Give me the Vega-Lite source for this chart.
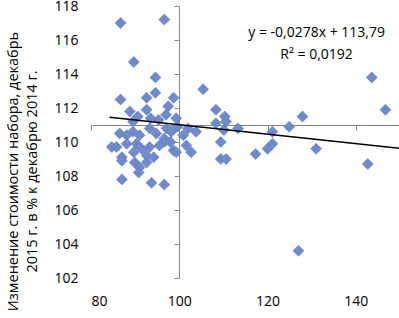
{
  "$schema": "https://vega.github.io/schema/vega-lite/v6.json",
  "autosize": {"type": "none"},
  "padding": {"left": 91, "top": 6, "right": 0, "bottom": 40},
  "width": 309,
  "height": 272,
  "config": {"view": {"stroke": null}, "font": "Open Sans"},
  "datasets": {
    "points": [
      {"x": 86.7, "y": 117.0}, {"x": 96.6, "y": 117.2}, {"x": 89.7, "y": 114.7}, {"x": 94.6, "y": 113.8},
      {"x": 94.6, "y": 112.9}, {"x": 86.7, "y": 112.5}, {"x": 92.6, "y": 112.6}, {"x": 98.7, "y": 112.6},
      {"x": 97.5, "y": 112.1}, {"x": 105.4, "y": 113.1},
      {"x": 88.8, "y": 111.8}, {"x": 92.6, "y": 111.9}, {"x": 90.6, "y": 111.5}, {"x": 95.3, "y": 111.3},
      {"x": 99.3, "y": 111.4}, {"x": 89.5, "y": 111.2}, {"x": 93.5, "y": 111.4}, {"x": 97.0, "y": 111.6},
      {"x": 93.3, "y": 110.8}, {"x": 97.1, "y": 110.8}, {"x": 98.2, "y": 110.6}, {"x": 88.1, "y": 110.4},
      {"x": 91.0, "y": 110.4}, {"x": 100.9, "y": 110.4}, {"x": 103.8, "y": 110.6}, {"x": 96.6, "y": 110.2},
      {"x": 86.5, "y": 110.5}, {"x": 89.5, "y": 110.6}, {"x": 94.8, "y": 110.5}, {"x": 99.6, "y": 110.9},
      {"x": 102.0, "y": 110.8},
      {"x": 84.7, "y": 109.7}, {"x": 87.0, "y": 109.1}, {"x": 89.7, "y": 109.4}, {"x": 93.3, "y": 109.7},
      {"x": 92.6, "y": 109.2}, {"x": 94.2, "y": 109.1}, {"x": 98.7, "y": 109.5}, {"x": 99.3, "y": 109.4},
      {"x": 101.6, "y": 109.8}, {"x": 102.7, "y": 109.4}, {"x": 88.1, "y": 109.9}, {"x": 90.3, "y": 109.9},
      {"x": 96.6, "y": 110.0}, {"x": 85.8, "y": 109.7}, {"x": 91.5, "y": 109.6}, {"x": 95.5, "y": 109.8},
      {"x": 98.0, "y": 110.0},
      {"x": 89.9, "y": 108.8}, {"x": 91.0, "y": 108.5}, {"x": 90.8, "y": 108.2}, {"x": 92.6, "y": 108.8},
      {"x": 87.0, "y": 108.9},
      {"x": 87.0, "y": 107.8}, {"x": 93.7, "y": 107.6}, {"x": 96.6, "y": 107.5},
      {"x": 108.3, "y": 111.9}, {"x": 110.3, "y": 111.5}, {"x": 108.3, "y": 111.1}, {"x": 110.6, "y": 111.2},
      {"x": 110.1, "y": 110.7}, {"x": 113.3, "y": 110.8}, {"x": 109.4, "y": 110.0}, {"x": 109.4, "y": 109.0},
      {"x": 110.6, "y": 109.0}, {"x": 117.3, "y": 109.3}, {"x": 120.0, "y": 109.6}, {"x": 121.1, "y": 109.9},
      {"x": 121.1, "y": 110.6}, {"x": 124.9, "y": 110.9}, {"x": 127.9, "y": 111.5}, {"x": 131.0, "y": 109.6},
      {"x": 143.6, "y": 113.8}, {"x": 146.7, "y": 111.9}, {"x": 142.7, "y": 108.7}, {"x": 127.0, "y": 103.6}
    ],
    "trend": [{"x": 84.2, "y": 111.45}, {"x": 150, "y": 109.62}],
    "labels": [
      {"x": 131.1, "y": 116.4, "text": "y = -0,0278x + 113,79"},
      {"x": 131.1, "y": 115.1, "text": "R² = 0,0192"}
    ],
    "cross": [{"x": 100, "y": 111}]
  },
  "layer": [
    {
      "data": {"name": "points"},
      "mark": {"type": "point", "shape": "diamond", "filled": true, "size": 120, "color": "#6F8BCB", "opacity": 1, "stroke": "#5E7BBF", "strokeWidth": 0.6},
      "encoding": {
        "x": {"field": "x", "type": "quantitative", "scale": {"domain": [80, 150], "nice": false, "zero": false},
          "axis": {"orient": "bottom", "values": [80, 100, 120, 140], "domain": false, "ticks": false, "grid": false, "labelPadding": 16, "labelFontSize": 14, "labelColor": "#000", "labelFont": "Open Sans", "title": null}},
        "y": {"field": "y", "type": "quantitative", "scale": {"domain": [102, 118], "nice": false, "zero": false},
          "axis": {"orient": "left", "values": [102, 104, 106, 108, 110, 112, 114, 116, 118], "domain": false, "ticks": false, "grid": false, "labelPadding": 13, "labelFontSize": 14, "labelColor": "#000", "labelFont": "Open Sans",
            "title": ["Изменение стоимости набора, декабрь", "2015 г. в % к декабрю 2014 г."],
            "titleFontSize": 14.5, "titleFontWeight": "normal", "titleColor": "#000", "titleFont": "Open Sans", "titleLineHeight": 19,
            "titleX": -78, "titleY": 165, "titleAlign": "center", "titleBaseline": "middle", "titleAngle": 270}}
      }
    },
    {
      "data": {"name": "cross"},
      "mark": {"type": "point", "opacity": 0},
      "encoding": {
        "x": {"field": "x", "type": "quantitative", "scale": {"domain": [80, 150], "nice": false, "zero": false},
          "axis": {"orient": "top", "offset": -119, "values": [80, 100, 120, 140], "labels": false, "grid": false, "domainColor": "#868686", "tickColor": "#868686", "tickSize": -5, "domainWidth": 1, "title": null}},
        "y": {"field": "y", "type": "quantitative", "scale": {"domain": [102, 118], "nice": false, "zero": false},
          "axis": {"orient": "right", "offset": -221, "values": [102, 104, 106, 108, 110, 112, 114, 116, 118], "labels": false, "grid": false, "domainColor": "#868686", "tickColor": "#868686", "tickSize": -5, "title": null}}
      }
    },
    {
      "data": {"name": "trend"},
      "mark": {"type": "line", "color": "#000", "strokeWidth": 1.5},
      "encoding": {
        "x": {"field": "x", "type": "quantitative", "scale": {"domain": [80, 150], "nice": false, "zero": false}, "axis": null},
        "y": {"field": "y", "type": "quantitative", "scale": {"domain": [102, 118], "nice": false, "zero": false}, "axis": null}
      }
    },
    {
      "data": {"name": "labels"},
      "mark": {"type": "text", "fontSize": 14, "font": "Open Sans", "color": "#000", "align": "center", "baseline": "middle"},
      "encoding": {
        "x": {"field": "x", "type": "quantitative", "scale": {"domain": [80, 150], "nice": false, "zero": false}, "axis": null},
        "y": {"field": "y", "type": "quantitative", "scale": {"domain": [102, 118], "nice": false, "zero": false}, "axis": null},
        "text": {"field": "text"}
      }
    }
  ],
  "resolve": {"axis": {"x": "independent", "y": "independent"}}
}
